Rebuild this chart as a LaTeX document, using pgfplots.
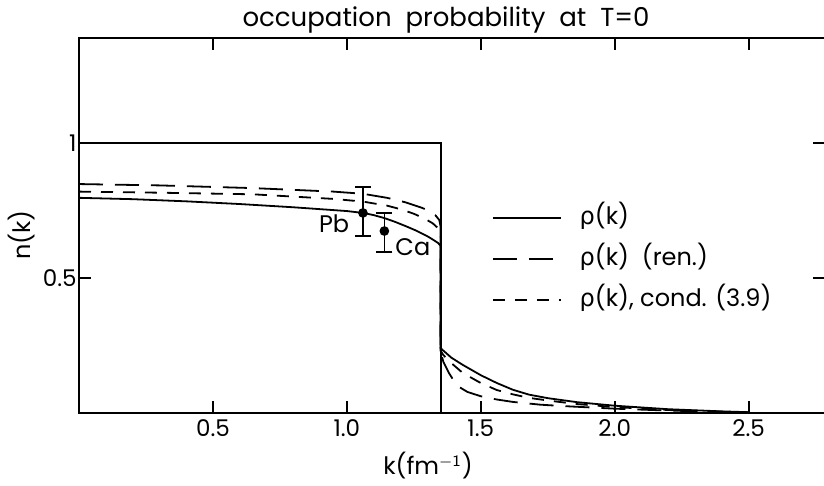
\documentclass[border=0pt]{standalone}
\usepackage{pgfplots}
\pgfplotsset{compat=1.18}
\usepackage{fontspec}
\setmainfont{Poppins}
\newfontfamily\grk{DejaVu Sans}
\begin{document}
\begin{tikzpicture}
\begin{axis}[
  at={(0pt,0pt)}, anchor=south west,
  scale only axis, width=373pt, height=187.5pt,
  xmin=0, xmax=2.785, ymin=0, ymax=1.389,
  axis line style={line width=0.9pt},
  tick style={line width=1.1pt, black},
  tick align=inside, major tick length=6pt,
  xtick={0.5,1,1.5,2,2.5}, xticklabels={0.5,1.0,1.5,2.0,2.5},
  ytick={0.5,1}, yticklabels={0.5,1},
  /pgf/number format/assume math mode=true,
  ticklabel style={font=\fontsize{11.5}{13}\selectfont},
  yticklabel style={inner sep=1pt},
  clip=false,
  legend cell align=left,
  legend style={draw=none, fill=none, at={(axis cs:1.54,0.57)}, anchor=west,
    inner sep=0pt, row sep=8.5pt, column sep=9pt,
    font=\fontsize{12}{14}\selectfont,
    nodes={inner sep=0pt, text height=9pt, text depth=3pt}},
  legend image code/.code={\draw[#1] (0pt,0pt) -- (34pt,0pt);},
]
% step function (T=0)
\addplot[line width=0.9pt, forget plot] coordinates {(0,1) (1.35,1) (1.35,0)};
% solid: rho(k)
\addplot[line width=0.9pt] coordinates {
(0,0.797) (0.2,0.792) (0.4,0.784) (0.6,0.774) (0.8,0.762) (1.0,0.748) (1.06,0.741)
(1.10,0.733) (1.14,0.722) (1.18,0.708) (1.22,0.692) (1.26,0.675) (1.30,0.655)
(1.32,0.643) (1.34,0.630) (1.35,0.620) (1.35,0.240) (1.366,0.226) (1.39,0.205)
(1.433,0.178) (1.47,0.157) (1.50,0.140) (1.56,0.111) (1.62,0.086) (1.68,0.068)
(1.75,0.055) (1.86,0.040) (2.0,0.027) (2.2,0.014) (2.4,0.006) (2.5,0.003)};
\addlegendentry{{\grk ρ}(k)}
% long dash: rho(k) (ren.)
\addplot[line width=0.9pt, dash pattern=on 12pt off 6pt] coordinates {
(0,0.848) (0.3,0.843) (0.65,0.833) (0.95,0.820) (1.06,0.812) (1.15,0.797)
(1.22,0.780) (1.28,0.760) (1.31,0.748) (1.33,0.733) (1.345,0.715) (1.35,0.690)
(1.35,0.230) (1.36,0.190) (1.38,0.150) (1.41,0.102) (1.45,0.078) (1.50,0.062)
(1.56,0.050) (1.62,0.041) (1.72,0.031) (1.80,0.026) (2.0,0.016) (2.2,0.009)
(2.5,0.002)};
\addlegendentry{{\grk ρ}(k)\ \ (ren.)}
% short dash: rho(k), cond. (3.9)
\addplot[line width=0.9pt, dash pattern=on 6pt off 5pt] coordinates {
(0,0.820) (0.3,0.816) (0.65,0.810) (0.95,0.793) (1.06,0.783) (1.15,0.768)
(1.20,0.755) (1.25,0.738) (1.29,0.720) (1.32,0.703) (1.34,0.685) (1.35,0.660)
(1.35,0.230) (1.36,0.215) (1.384,0.190) (1.433,0.148) (1.50,0.111) (1.56,0.085)
(1.62,0.069) (1.68,0.056) (1.76,0.045) (1.86,0.033) (2.0,0.022) (2.2,0.011)
(2.5,0.002)};
\addlegendentry{{\grk ρ}(k), cond. (3.9)}
% experimental points
\addplot[only marks, mark=*, mark size=2pt, line width=0.8pt, forget plot,
  error bars/.cd, y dir=both, y explicit, error mark=-,
  error bar style={line width=0.8pt},
  error mark options={rotate=90, mark size=4pt, line width=0.8pt}]
  coordinates {(1.06,0.741) += (0,0.095) -= (0,0.086)
               (1.14,0.674) += (0,0.067) -= (0,0.078)};
\node[anchor=east, font=\fontsize{12}{14}\selectfont, inner sep=0pt] at (axis cs:1.01,0.70) {Pb};
\node[anchor=west, font=\fontsize{12}{14}\selectfont, inner sep=0pt] at (axis cs:1.18,0.615) {Ca};
\end{axis}
% inward tick marks (axis decoration)
\foreach \t in {0.5,1,1.5,2,2.5} {
  \draw[line width=1.1pt] (\t*133.93pt,0pt) -- ++(0pt,6pt);
  \draw[line width=1.1pt] (\t*133.93pt,187.5pt) -- ++(0pt,-6pt);
}
\foreach \t in {0.5,1} {
  \draw[line width=1.1pt] (0pt,\t*134.99pt) -- ++(6pt,0pt);
  \draw[line width=1.1pt] (373pt,\t*134.99pt) -- ++(-6pt,0pt);
}
\node[anchor=base, font=\fontsize{13}{15}\selectfont] at (183.5pt,193pt) {occupation\ \ probability\ \ at\ \ T=0};
\node[anchor=base, font=\fontsize{12}{14}\selectfont] at (174.5pt,-31pt) {k(fm$^{\mathsf{-1}}$)};
\node[rotate=90, font=\fontsize{12}{14}\selectfont] at (-28.5pt,89pt) {n(k)};
\pgfresetboundingbox
\path[use as bounding box] (-39.5pt,-36.5pt) rectangle (372.5pt,206.5pt);
\end{tikzpicture}
\end{document}
